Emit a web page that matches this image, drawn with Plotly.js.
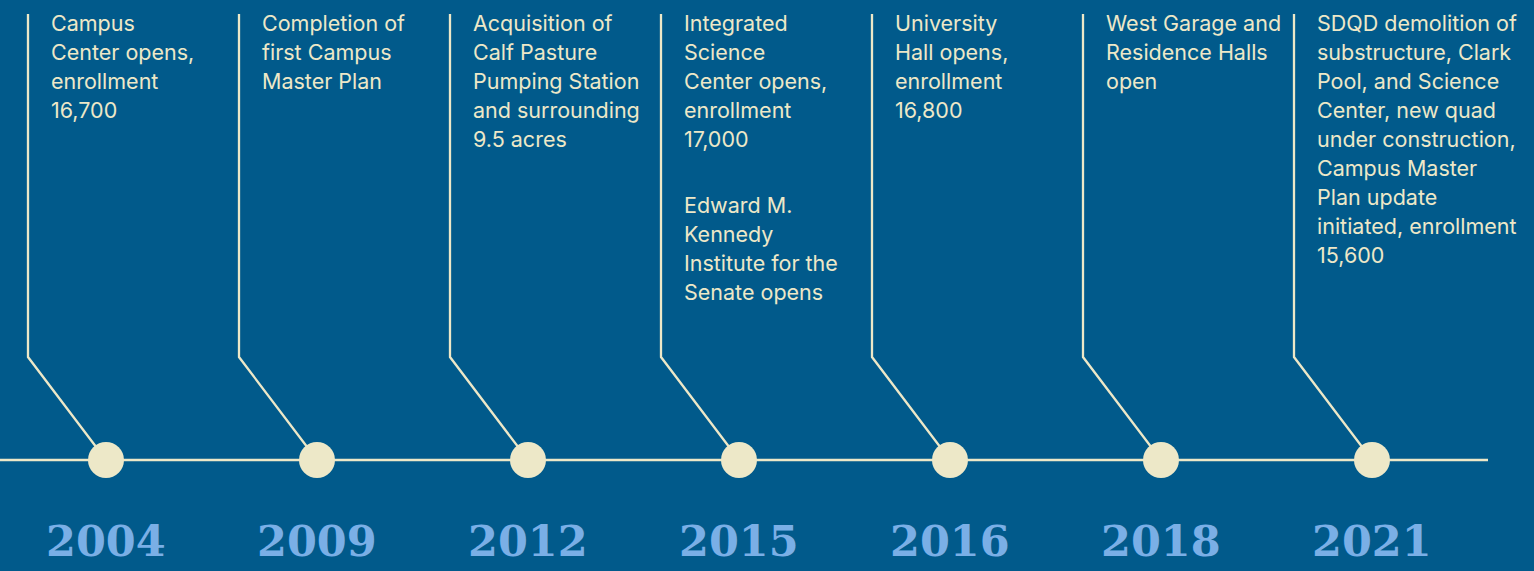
<!DOCTYPE html>
<html>
<head>
<meta charset="utf-8">
<script src="https://cdn.plot.ly/plotly-3.0.1.min.js"></script>
<style>
  html, body { margin: 0; padding: 0; background: #015a8b; }
  #chart { width: 1534px; height: 571px; }
</style>
</head>
<body>
<div id="chart"></div>
<script>
// ---- data ----
const years = ["2004", "2009", "2012", "2015", "2016", "2018", "2021"];
const descriptions = [
  "Campus<br>Center opens,<br>enrollment<br>16,700",
  "Completion of<br>first Campus<br>Master Plan",
  "Acquisition of<br>Calf Pasture<br>Pumping Station<br>and surrounding<br>9.5 acres",
  "Integrated<br>Science<br>Center opens,<br>enrollment<br>17,000<br><br>Edward M.<br>Kennedy<br>Institute for the<br>Senate opens",
  "University<br>Hall opens,<br>enrollment<br>16,800",
  "West Garage and<br>Residence Halls<br>open",
  "SDQD demolition of<br>substructure, Clark<br>Pool, and Science<br>Center, new quad<br>under construction,<br>Campus Master<br>Plan update<br>initiated, enrollment<br>15,600"
];

// ---- style / layout constants ----
const W = 1534, H = 571;
const BG = "#015a8b";
const CREAM = "#ede8c8";
const YEAR_COLOR = "#7aafe6";
const STEP = 211;          // px between events
const FIRST_X = 106;       // px of first dot
const LINE_Y = 460;
const BEND_Y = 357;
const TOP_Y = 14;
const STEM_OFFSET = 78 / STEP;
const TEXT_OFFSET = 56 / STEP;
const TEXT_TOP = 23;
const LINE_H = 29;
const PARA_GAP = 37;
const YEAR_Y = 541;

const idx = years.map((_, i) => i);
const traces = [];

// main timeline
traces.push({
  x: [-FIRST_X / STEP, (1488 - FIRST_X) / STEP],
  y: [LINE_Y, LINE_Y],
  mode: "lines",
  line: { color: CREAM, width: 2.6 },
  hoverinfo: "skip", showlegend: false
});

// connectors
idx.forEach(i => {
  traces.push({
    x: [i - STEM_OFFSET, i - STEM_OFFSET, i],
    y: [TOP_Y, BEND_Y, LINE_Y],
    mode: "lines",
    line: { color: CREAM, width: 2.3 },
    hoverinfo: "skip", showlegend: false
  });
});

// dots
traces.push({
  x: idx,
  y: idx.map(() => LINE_Y),
  mode: "markers",
  marker: { size: 36, color: CREAM, line: { width: 0 } },
  hoverinfo: "skip", showlegend: false
});

const annotations = [];
descriptions.forEach((d, i) => {
  const parts = d.split("<br>");
  let y = TEXT_TOP;
  parts.forEach((p) => {
    if (p === "") { y += PARA_GAP; return; }
    annotations.push({
      x: i - TEXT_OFFSET, y: y, xref: "x", yref: "y",
      text: p, showarrow: false,
      xanchor: "left", yanchor: "middle",
      borderpad: 0,
      font: { family: "Inter, 'Noto Sans', sans-serif", size: 21.5, color: CREAM }
    });
    y += LINE_H;
  });
});

years.forEach((yr, i) => {
  annotations.push({
    x: i, y: YEAR_Y, xref: "x", yref: "y",
    text: "<b>" + yr + "</b>", showarrow: false,
    xanchor: "center", yanchor: "middle",
    font: { family: "'DejaVu Serif', serif", size: 43, color: YEAR_COLOR }
  });
});

const layout = {
  width: W, height: H,
  margin: { l: 0, r: 0, t: 0, b: 0, pad: 0 },
  paper_bgcolor: BG, plot_bgcolor: BG,
  xaxis: { range: [-FIRST_X / STEP, (W - FIRST_X) / STEP], visible: false, fixedrange: true },
  yaxis: { range: [H, 0], visible: false, fixedrange: true },
  annotations: annotations,
  showlegend: false
};

Plotly.newPlot("chart", traces, layout, { displayModeBar: false, staticPlot: true });
</script>
</body>
</html>
